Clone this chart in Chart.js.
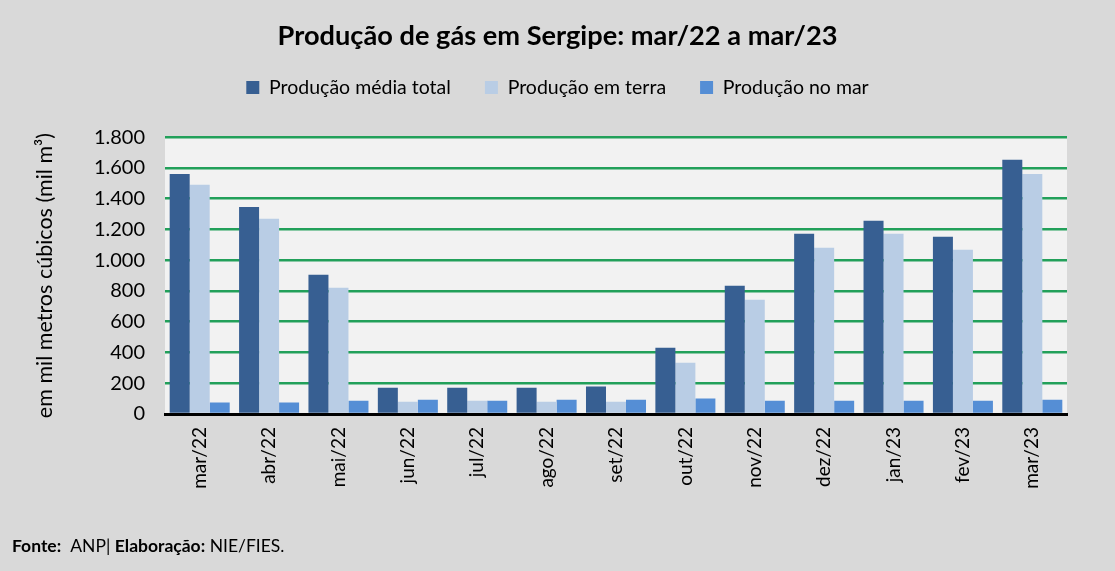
<!DOCTYPE html>
<html>
<head>
<meta charset="utf-8">
<script src="https://cdn.jsdelivr.net/npm/chart.js@4.4.0/dist/chart.umd.min.js"></script>
<style>
  html, body { margin: 0; padding: 0; background: #d9d9d9; }
  #wrap { width: 1115px; height: 571px; position: relative; }
</style>
</head>
<body>
<div id="wrap"><canvas id="c" width="1115" height="571"></canvas></div>
<script>
const categories = ["mar/22","abr/22","mai/22","jun/22","jul/22","ago/22","set/22","out/22","nov/22","dez/22","jan/23","fev/23","mar/23"];
const producaoTotal = [1560, 1345, 905, 171, 171, 171, 178, 431, 834, 1172, 1256, 1152, 1653];
const producaoTerra = [1490, 1269, 821, 80, 86, 80, 80, 334, 743, 1081, 1172, 1068, 1561];
const producaoMar = [75, 75, 86, 93, 86, 93, 93, 100, 86, 86, 86, 86, 93];
const seriesNames = ["Produção média total", "Produção em terra", "Produção no mar"];
const chartTitle = "Produção de gás em Sergipe: mar/22 a mar/23";
const yAxisTitle = "em mil metros cúbicos (mil m³)";

const FONT = "Lato";

const bgPlugin = {
  id: 'bgPlugin',
  beforeDraw(chart) {
    const ctx = chart.ctx;
    ctx.save();
    ctx.fillStyle = '#d9d9d9';
    ctx.fillRect(0, 0, chart.width, chart.height);
    const a = chart.chartArea;
    ctx.fillStyle = '#f2f2f2';
    ctx.fillRect(a.left, a.top, a.right - a.left, a.bottom - a.top);
    ctx.restore();
  },
  afterDraw(chart) {
    const ctx = chart.ctx;
    ctx.save();
    ctx.fillStyle = '#000';
    ctx.textBaseline = 'alphabetic';
    let x = 12;
    const y = 552;
    const parts = [["Fonte:", true], ["  ANP| ", false], ["Elaboração:", true], [" NIE/FIES.", false]];
    for (const [t, b] of parts) {
      ctx.font = (b ? "bold " : "") + "17.5px " + FONT;
      ctx.fillText(t, x, y);
      x += ctx.measureText(t).width;
    }
    ctx.restore();
  }
};

const legendPad = {
  id: 'legendPad',
  beforeInit(chart) {
    const orig = chart.legend.fit;
    chart.legend.fit = function () {
      orig.bind(chart.legend)();
      this.height += 30;
    };
  }
};

new Chart(document.getElementById('c'), {
  type: 'bar',
  data: {
    labels: categories,
    datasets: [
      { label: seriesNames[0], data: producaoTotal, backgroundColor: '#375f92' },
      { label: seriesNames[1], data: producaoTerra, backgroundColor: '#b9cde5' },
      { label: seriesNames[2], data: producaoMar, backgroundColor: '#558ed5' }
    ]
  },
  options: {
    responsive: false,
    animation: false,
    devicePixelRatio: 1,
    layout: { padding: { left: 0, right: 0, top: 0, bottom: 57 } },
    datasets: { bar: { categoryPercentage: 0.865, barPercentage: 1.0 } },
    plugins: {
      title: {
        display: true,
        text: chartTitle,
        color: '#000',
        font: { family: FONT, size: 27.2, weight: 'bold', lineHeight: 1.2 },
        padding: { top: 20, bottom: -9 }
      },
      legend: {
        display: true,
        position: 'top',
        labels: {
          color: '#000',
          font: { family: FONT, size: 19.5 },
          boxWidth: 13,
          boxHeight: 13,
          padding: 34
        }
      },
      tooltip: { enabled: false }
    },
    scales: {
      x: {
        grid: { display: false, drawTicks: false },
        border: { display: true, color: '#000', width: 3 },
        ticks: {
          color: '#000',
          font: { family: FONT, size: 19 },
          minRotation: 90,
          maxRotation: 90,
          padding: 13
        },
        afterFit(scale) { scale.height = 100; }
      },
      y: {
        min: 0,
        max: 1800,
        ticks: {
          stepSize: 200,
          color: '#000',
          font: { family: FONT, size: 20 },
          padding: 20,
          callback: (v) => v.toLocaleString('pt-BR')
        },
        grid: { color: '#22a05a', lineWidth: 2.5, drawTicks: false },
        border: { display: false },
        title: {
          display: true,
          text: yAxisTitle,
          color: '#000',
          font: { family: FONT, size: 21.5 },
          padding: { top: 32, bottom: 0 }
        },
        afterFit(scale) { scale.width = 165; }
      },
      yRight: {
        position: 'right',
        display: true,
        min: 0,
        max: 1800,
        ticks: { display: false },
        grid: { display: false, drawTicks: false },
        border: { display: false },
        afterFit(scale) { scale.width = 48; }
      }
    }
  },
  plugins: [bgPlugin, legendPad]
});
</script>
</body>
</html>
